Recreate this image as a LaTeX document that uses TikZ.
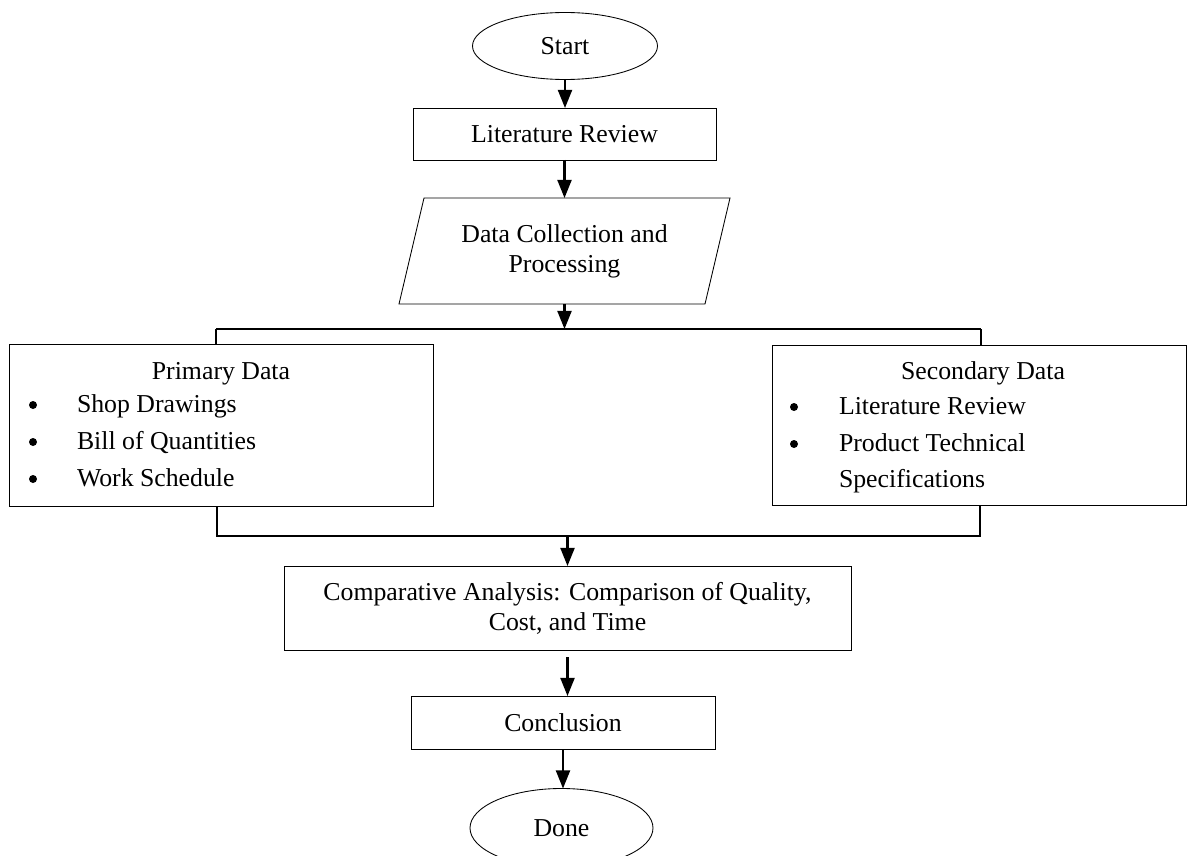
\documentclass[tikz,border=0pt]{standalone}
\usepackage{fontspec}
\setmainfont{Liberation Serif}
\usetikzlibrary{shapes.geometric,arrows.meta}
\newlength\pxu
\setlength\pxu{0.01635cm}

\begin{document}
\begin{tikzpicture}[x=0.01635cm, y=-0.01635cm,
  font=\fontsize{12}{14}\selectfont,
  every node/.style={inner sep=0pt, outer sep=0pt},
  termbox/.style={draw, ellipse, line width=0.4pt},
  procbox/.style={draw, rectangle, line width=0.4pt, align=center},
  arr/.style={line width=1pt, -{Triangle[width=6.5pt,length=8.4pt]}},
  link/.style={line width=0.8pt},
  bul/.style={circle, fill, minimum size=8\pxu},
  item/.style={anchor=base west}]
  \useasboundingbox (0,0) rectangle (1188,856);

  % start, literature review, data collection
  \node[termbox, minimum width=185\pxu, minimum height=67\pxu] (start) at (565,46) {Start};
  \node[procbox, minimum width=303\pxu, minimum height=52\pxu] (litrev) at (564.5,134) {Literature Review};
  \node[minimum height=106\pxu, align=center] (dcp) at (564.5,251) {Data Collection and\\Processing};
  \draw[line width=0.4pt] (424,198) -- (730,198) -- (705,304) -- (399,304) -- cycle;

  % primary data
  \node[procbox, minimum width=424\pxu, minimum height=162\pxu] (prim) at (221,425) {};
  \node[anchor=base] (primtitle) at (221,379) {Primary Data};
  \node[bul] (pb1) at (33,405) {};
  \node[item] (pi1) at (77,412) {Shop Drawings};
  \node[bul] (pb2) at (33,442) {};
  \node[item] (pi2) at (77,449) {Bill of Quantities};
  \node[bul] (pb3) at (33,479) {};
  \node[item] (pi3) at (77,486) {Work Schedule};

  % secondary data
  \node[procbox, minimum width=414\pxu, minimum height=160\pxu] (sec) at (979,425) {};
  \node[anchor=base] (sectitle) at (983,379) {Secondary Data};
  \node[bul] (sb1) at (794,407) {};
  \node[item] (si1) at (839,414) {Literature Review};
  \node[bul] (sb2) at (794,444) {};
  \node[item] (si2) at (839,451) {Product Technical};
  \node[item] (si3) at (839,487) {Specifications};

  % analysis, conclusion, done
  \node[procbox, minimum width=567\pxu, minimum height=84\pxu] (comp) at (567.5,608) {Comparative Analysis: Comparison of Quality,\\Cost, and Time};
  \node[procbox, minimum width=304\pxu, minimum height=53\pxu] (concl) at (563,722.5) {Conclusion};
  \node[termbox, minimum width=183\pxu, minimum height=79\pxu] (done) at (561.5,828) {Done};

  % arrows down the middle
  \draw[arr] (start.south) -- (start.south |- litrev.north);
  \draw[arr] (litrev.south) -- (litrev.south |- dcp.north);

  % split into the two data boxes
  \coordinate (splitL) at (216,329);
  \coordinate (splitR) at (981,329);
  \draw[arr] (dcp.south) -- (dcp.south |- splitL);
  \draw[link] (splitL) -- (splitR);
  \draw[link] (splitL) -- (splitL |- prim.north);
  \draw[link] (splitR) -- (splitR |- sec.north);

  % join back into the analysis
  \coordinate (joinL) at (217,536);
  \coordinate (joinR) at (980,536);
  \draw[link] (joinL |- prim.south) -- (joinL) -- (joinR) -- (joinR |- sec.south);
  \draw[arr] (comp.north |- joinL) -- (comp.north);
  \draw[arr, shorten <=7\pxu] (comp.south) -- (comp.south |- concl.north);
  \draw[arr] (concl.south) -- (concl.south |- done.north);
\end{tikzpicture}
\end{document}
